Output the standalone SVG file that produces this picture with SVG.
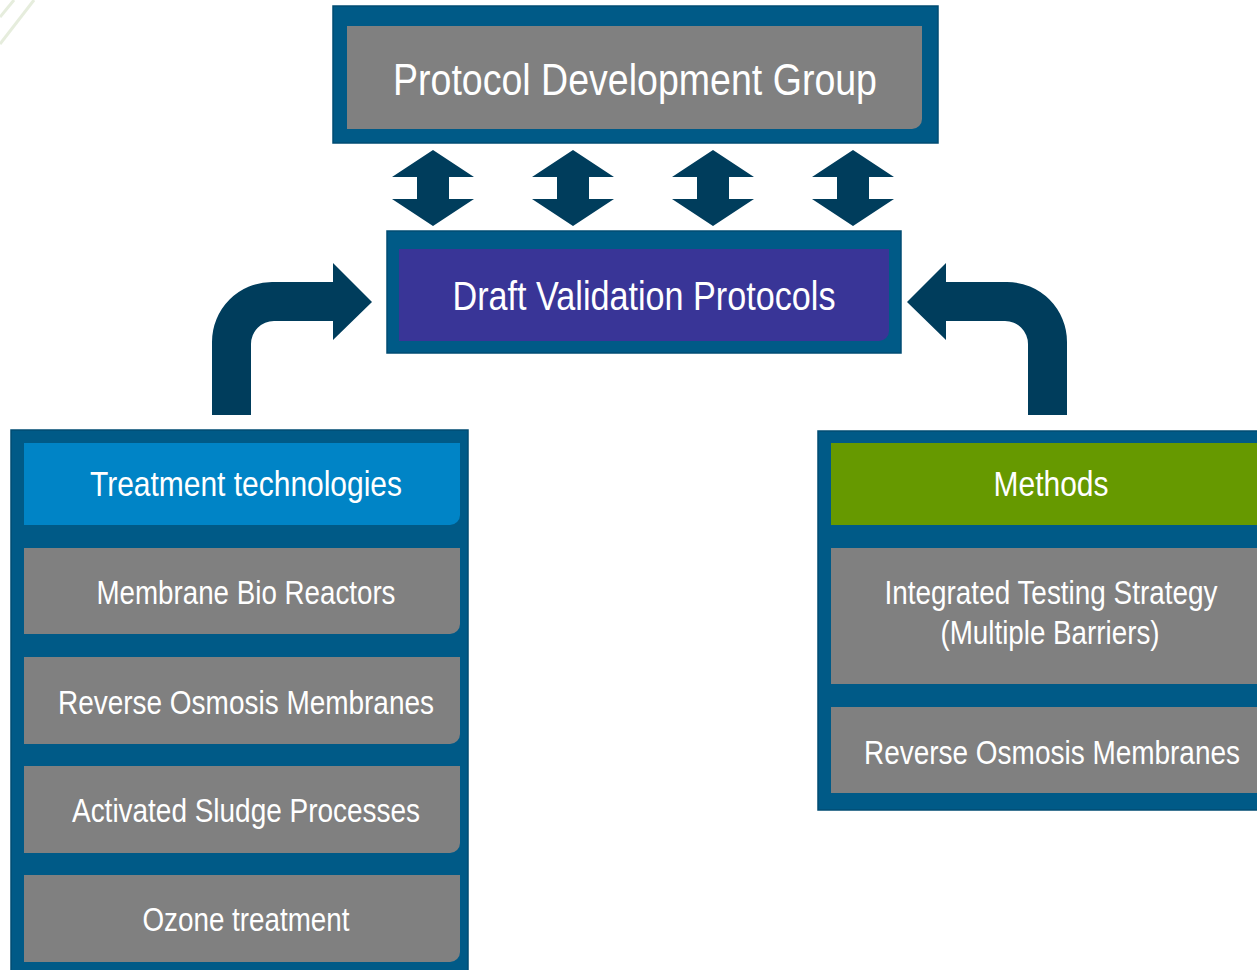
<svg xmlns="http://www.w3.org/2000/svg" width="1257" height="970" viewBox="0 0 1257 970">
<style>
.outer{fill:#005A87;stroke:#004C73;stroke-width:1.5}
.gray{fill:#808080}
.arrow{fill:#003D5C}
text{font-family:"Liberation Sans",Arial,sans-serif;fill:#FFFFFF;text-anchor:middle}
.t1{font-size:44px}
.t2{font-size:40px}
.t3{font-size:34px}
.th{font-size:35px}
</style>
<g id="decor" stroke="#E6EDDD" stroke-width="3" fill="none">
<line x1="0" y1="44" x2="34" y2="0"/>
<line x1="0" y1="17" x2="14" y2="0"/>
</g>
<g id="protocol-development-group">
<rect class="outer" x="333" y="6" width="605" height="137"/>
<path class="gray" d="M347,26 H922 V119 A10,10 0 0 1 912,129 H347 Z"/>
<text class="t1" x="635" y="95" textLength="484" lengthAdjust="spacingAndGlyphs">Protocol Development Group</text>
</g>
<g id="draft-validation-protocols">
<rect class="outer" x="387" y="231" width="514" height="122"/>
<path fill="#393597" d="M399,249 H889 V331 A10,10 0 0 1 879,341 H399 Z"/>
<text class="t2" x="644" y="310" textLength="383" lengthAdjust="spacingAndGlyphs">Draft Validation Protocols</text>
</g>
<g id="treatment-technologies">
<rect class="outer" x="11" y="430" width="457" height="545"/>
<path fill="#0084C6" d="M24,443 H460 V515 A10,10 0 0 1 450,525 H24 Z"/>
<text class="th" x="246" y="496" textLength="312" lengthAdjust="spacingAndGlyphs">Treatment technologies</text>
<path class="gray" d="M24,548 H460 V624 A10,10 0 0 1 450,634 H24 Z"/>
<text class="t3" x="246" y="604" textLength="299" lengthAdjust="spacingAndGlyphs">Membrane Bio Reactors</text>
<path class="gray" d="M24,657 H460 V734 A10,10 0 0 1 450,744 H24 Z"/>
<text class="t3" x="246" y="714" textLength="376" lengthAdjust="spacingAndGlyphs">Reverse Osmosis Membranes</text>
<path class="gray" d="M24,766 H460 V843 A10,10 0 0 1 450,853 H24 Z"/>
<text class="t3" x="246" y="822" textLength="348" lengthAdjust="spacingAndGlyphs">Activated Sludge Processes</text>
<path class="gray" d="M24,875 H460 V952 A10,10 0 0 1 450,962 H24 Z"/>
<text class="t3" x="246" y="931" textLength="207" lengthAdjust="spacingAndGlyphs">Ozone treatment</text>
</g>
<g id="methods">
<rect class="outer" x="818" y="431" width="460" height="379"/>
<path fill="#669900" d="M831,443 H1267 V515 A10,10 0 0 1 1257,525 H831 Z"/>
<text class="th" x="1051" y="496" textLength="115" lengthAdjust="spacingAndGlyphs">Methods</text>
<path class="gray" d="M831,548 H1267 V674 A10,10 0 0 1 1257,684 H831 Z"/>
<text class="t3" x="1051" y="604" textLength="333" lengthAdjust="spacingAndGlyphs">Integrated Testing Strategy</text>
<text class="t3" x="1050" y="644" textLength="219" lengthAdjust="spacingAndGlyphs">(Multiple Barriers)</text>
<path class="gray" d="M831,707 H1267 V783 A10,10 0 0 1 1257,793 H831 Z"/>
<text class="t3" x="1052" y="764" textLength="376" lengthAdjust="spacingAndGlyphs">Reverse Osmosis Membranes</text>
</g>
<g id="connectors">
<path id="dbl1" class="arrow" d="M433,150 L474,177 H449 V199 H474 L433,226 L392,199 H417 V177 H392 Z"/>
<path id="dbl2" class="arrow" d="M573,150 L614,177 H589 V199 H614 L573,226 L532,199 H557 V177 H532 Z"/>
<path id="dbl3" class="arrow" d="M713,150 L754,177 H729 V199 H754 L713,226 L672,199 H697 V177 H672 Z"/>
<path id="dbl4" class="arrow" d="M853,150 L894,177 H869 V199 H894 L853,226 L812,199 H837 V177 H812 Z"/>
<path id="curve-left" class="arrow" d="M212,415 V342 A60,60 0 0 1 272,282 H333 V263 L372,302 L333,340 V321 H274 A23,23 0 0 0 251,344 V415 Z"/>
<path id="curve-right" class="arrow" d="M1067,415 V342 A60,60 0 0 0 1007,282 H946 V263 L907,302 L946,340 V321 H1005 A23,23 0 0 1 1028,344 V415 Z"/>
</g>
</svg>
